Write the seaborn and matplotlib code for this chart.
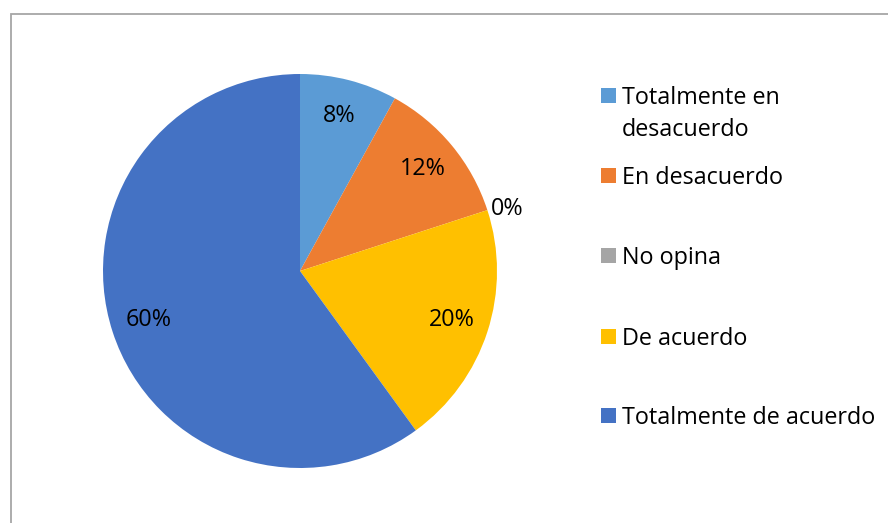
import matplotlib
matplotlib.use("Agg")
import matplotlib.pyplot as plt
import seaborn as sns
import numpy as np
from matplotlib.patches import Rectangle

categories = ["Totalmente en\ndesacuerdo", "En desacuerdo", "No opina", "De acuerdo", "Totalmente de acuerdo"]
values = [8, 12, 0, 20, 60]
pct_labels = ["8%", "12%", "0%", "20%", "60%"]
colors = ["#5B9BD5", "#ED7D31", "#A5A5A5", "#FFC000", "#4472C4"]

sns.set_style("white")
plt.rcParams['font.family'] = ['Open Sans', 'DejaVu Sans']

W, H = 888, 523
FS = 16.8
fig = plt.figure(figsize=(W / 100, H / 100), dpi=100)

# chart border (cropped on right/bottom)
fig.patches.append(Rectangle((11 / W, -0.05), 1.2, 1 - 13.5 / H + 0.05,
                             transform=fig.transFigure, fill=False,
                             edgecolor="#A6A6A6", linewidth=1.3))

cx, cy, r = 300, 271, 197
ax = fig.add_axes([(cx - r) / W, (H - cy - r) / H, 2 * r / W, 2 * r / H])
wedges, _ = ax.pie(values, colors=colors, startangle=90, counterclock=False,
                   radius=1, wedgeprops=dict(edgecolor="none", linewidth=0))
ax.set_xlim(-1, 1)
ax.set_ylim(-1, 1)
ax.set_aspect("equal")
ax.axis("off")

# percent labels
total = sum(values)
start = 90.0
for v, lab in zip(values, pct_labels):
    ang = start - 360 * v / total / 2
    start -= 360 * v / total
    if v > 0:
        d = 0.81
        x, y = d * np.cos(np.radians(ang)), d * np.sin(np.radians(ang))
        ax.text(x, y, lab, ha="center", va="center", fontsize=FS, color="#000000")
    else:
        d = 1.02
        x, y = d * np.cos(np.radians(ang)), d * np.sin(np.radians(ang))
        ax.text(x, y, lab, ha="left", va="center", fontsize=FS, color="#000000")

# legend
ys = [95, 175, 255, 336, 415]
for cat, col, y in zip(categories, colors, ys):
    fig.patches.append(Rectangle((601 / W, (H - y - 7.5) / H), 15 / W, 15 / H,
                                 transform=fig.transFigure, facecolor=col, edgecolor="none"))
    for i, line in enumerate(cat.split("\n")):
        fig.text(622 / W, (H - y - 32 * i) / H, line, ha="left", va="center_baseline",
                 fontsize=FS, color="#000000")

fig.savefig("out.png", dpi=100)
